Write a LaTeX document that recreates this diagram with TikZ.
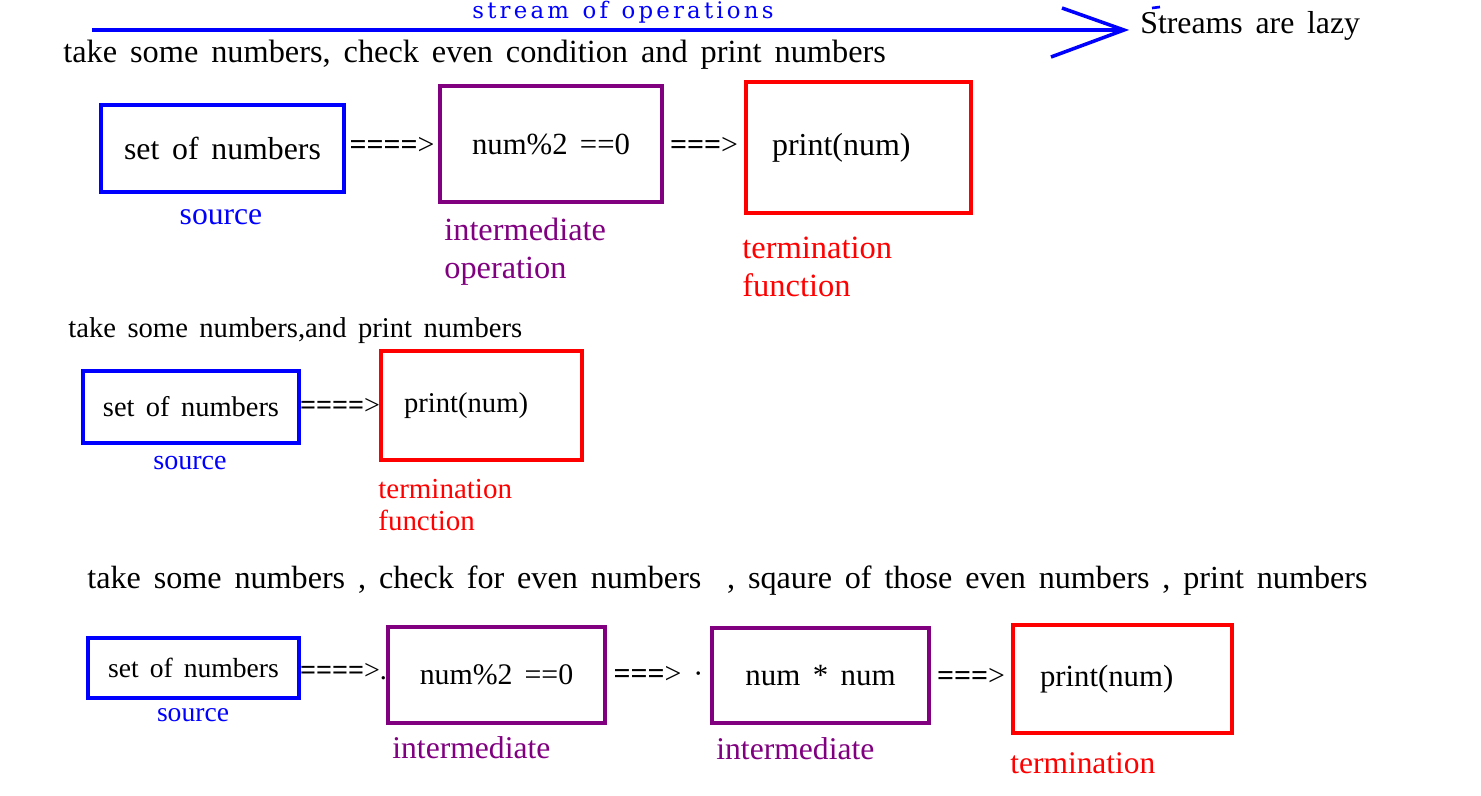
\documentclass[tikz,border=0pt]{standalone}
\usepackage{fontspec}
\setmainfont{Liberation Serif}[WordSpace=1.6]
\newfontfamily\wideserif[LetterSpace=14,WordSpace=1.3]{DejaVu Serif}
\usetikzlibrary{positioning}
\definecolor{srcblue}{RGB}{0,0,255}
\definecolor{oppurple}{RGB}{128,0,128}
\definecolor{endred}{RGB}{255,0,0}
\newcommand{\fsz}[2]{\fontsize{#1pt}{#2pt}\selectfont}

\begin{document}
\begin{tikzpicture}[x=0.02cm,y=-0.02cm,
	every node/.style={inner sep=0pt},
	srcbox/.style={draw=srcblue,line width=2.2pt},
	midbox/.style={draw=oppurple,line width=2.2pt},
	endbox/.style={draw=endred,line width=2.2pt,align=left},
	link/.style={font=\fsz{17}{20}},
	flowline/.style={draw=srcblue,line width=2pt}]
	\useasboundingbox (0,0) rectangle (1481,795);
	
	% stream arrow on top
	\coordinate (flow start) at (92,30);
	\coordinate (flow tip)   at (1124,30);
	\coordinate (tip up)     at (1062,8);
	\coordinate (tip down)   at (1051,57);
	\draw[flowline] (flow start) -- (flow tip);
	\draw[flowline] (tip up) -- (flow tip) -- (tip down);
	\draw[srcblue,line width=1.5pt] (1152,8) -- (1160,7);
	\node[anchor=base,text=srcblue,font=\wideserif\fsz{13}{15}] (flowtag) at (623,18) {stream of operations};
	\node[anchor=west,font=\fsz{18.1}{21}] (lazy) at (1140,26) {Streams are lazy};
	
	% first chain
	\node[anchor=west,font=\fsz{18.4}{21}] (head1) at (63,55) {take some numbers, check even condition and print numbers};
	\node[srcbox,minimum width=4.86cm,minimum height=1.74cm,font=\fsz{18.1}{21}] (src1) at (222.5,148.5) {set of numbers};
	\node[midbox,minimum width=4.44cm,minimum height=2.32cm,font=\fsz{17.5}{21}] (op1) at (551,144) {num\%2 ==0};
	\node[endbox,text width=3.46cm,inner xsep=0.52cm,minimum height=2.62cm,font=\fsz{18.2}{21}] (end1) at (858.5,147.5) {print(num)};
	\path (src1) edge[draw=none] node[link] {\textbf{====}>} (op1)
	(op1) edge[draw=none] node[link] {\textbf{===}>} (end1);
	\node[text=srcblue,font=\fsz{18}{21}] (srctag1) at (221,217) {source};
	\node[anchor=west,align=left,text=oppurple,font=\fsz{18.4}{21.6}] (optag1) at (444,252) {intermediate\\operation};
	\node[anchor=west,align=left,text=endred,font=\fsz{18.5}{21.6}] (endtag1) at (742,267) {termination\\function};
	
	% second chain
	\node[anchor=west,font=\fsz{16.3}{19}] (head2) at (68,331) {take some numbers,and print numbers};
	\node[srcbox,minimum width=4.32cm,minimum height=1.44cm,font=\fsz{16.2}{19}] (src2) at (191,407) {set of numbers};
	\node[endbox,text width=3.1cm,inner xsep=0.46cm,minimum height=2.18cm,font=\fsz{16.3}{19}] (end2) at (481.5,405.5) {print(num)};
	\path (src2) edge[draw=none] node[link,font=\fsz{16}{19}] {\textbf{====}>} (end2);
	\node[text=srcblue,font=\fsz{16}{19}] (srctag2) at (190,463) {source};
	\node[anchor=west,align=left,text=endred,font=\fsz{16.5}{18.2}] (endtag2) at (378,505) {termination\\function};
	
	% third chain
	\node[anchor=west,font=\fsz{18.3}{21}] (head3) at (87,581) {take some numbers , check for even numbers~ , sqaure of those even numbers , print numbers};
	\node[srcbox,minimum width=4.22cm,minimum height=1.2cm,font=\fsz{15.7}{19}] (src3) at (193.5,668) {set of numbers};
	\node[midbox,minimum width=4.34cm,minimum height=1.92cm,font=\fsz{17}{21}] (op3) at (496.5,675) {num\%2 ==0};
	\node[midbox,minimum width=4.34cm,minimum height=1.9cm,font=\fsz{17.6}{21}] (op4) at (820.5,675.5) {num * num};
	\node[endbox,text width=3.3cm,inner xsep=0.54cm,minimum height=2.16cm,font=\fsz{17.5}{20}] (end3) at (1122.5,679) {print(num)};
	\path (src3) edge[draw=none] node[link,font=\fsz{16}{19}] {\textbf{====}>.} (op3)
	(op3) edge[draw=none] node[link] {\textbf{===}>~·} (op4)
	(op4) edge[draw=none] node[link] {\textbf{===}>} (end3);
	\node[text=srcblue,font=\fsz{15.7}{18}] (srctag3) at (193,715) {source};
	\node[anchor=west,text=oppurple,font=\fsz{18}{21}] (optag3) at (392,748) {intermediate};
	\node[anchor=west,text=oppurple,font=\fsz{18}{21}] (optag4) at (716,749) {intermediate};
	\node[anchor=west,text=endred,font=\fsz{17.9}{21}] (endtag3) at (1010,763) {termination};
\end{tikzpicture}
\end{document}
